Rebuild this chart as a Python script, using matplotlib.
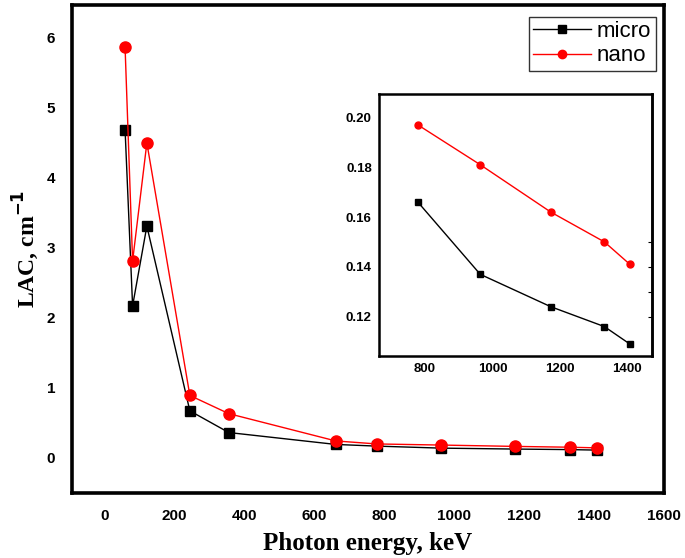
import numpy as np
import matplotlib.pyplot as plt

# Photon energies (keV)
energy = [59.5, 81.0, 121.8, 244.7, 356.0, 661.7, 778.9, 964.0, 1173.2, 1332.5, 1408.0]

# Linear attenuation coefficient (cm^-1)
lac_micro = [4.69, 2.17, 3.31, 0.67, 0.36, 0.19, 0.166, 0.137, 0.124, 0.116, 0.109]
lac_nano = [5.87, 2.81, 4.50, 0.89, 0.63, 0.24, 0.197, 0.181, 0.162, 0.150, 0.141]

# inset shows the high-energy part
n_inset = 5

fig = plt.figure(figsize=(6.85, 5.58), dpi=100)
ax = fig.add_axes([0.1047, 0.117, 0.8646, 0.874])

ax.plot(energy, lac_micro, color='black', lw=1.0, marker='s', ms=7, label='micro')
ax.plot(energy, lac_nano, color='red', lw=1.0, marker='o', ms=8, label='nano')

ax.set_xlim(-93, 1590)
ax.set_ylim(-0.5, 6.47)
ax.set_xticks(np.arange(0, 1601, 200))
ax.set_yticks(np.arange(0, 7, 1))
ax.tick_params(length=0, pad=12, labelsize=11)
for lab in ax.get_xticklabels() + ax.get_yticklabels():
    lab.set_fontfamily('Liberation Sans')
    lab.set_fontweight('bold')
for sp in ax.spines.values():
    sp.set_linewidth(2.6)

ax.set_xlabel('Photon energy, keV', fontfamily='Liberation Serif', fontweight='bold', fontsize=18, labelpad=6)
ax.set_ylabel('LAC, cm$^{\\mathbf{-1}}$', fontfamily='Liberation Serif', fontweight='bold', fontsize=17, labelpad=4)

leg = ax.legend(loc='upper right', bbox_to_anchor=(0.997, 0.99), frameon=True, fancybox=False,
                edgecolor='black', borderpad=0.2, handlelength=2.6, handletextpad=0.25, labelspacing=0.15,
                markerscale=0.75, borderaxespad=0.3,
                prop={'family': 'Liberation Sans', 'size': 16})
leg.get_frame().set_linewidth(1.0)

# inset
axi = fig.add_axes([0.553, 0.362, 0.399, 0.470])
axi.plot(energy[-n_inset:], lac_micro[-n_inset:], color='black', lw=1.0, marker='s', ms=4)
axi.plot(energy[-n_inset:], lac_nano[-n_inset:], color='red', lw=1.0, marker='o', ms=5)
axi.set_xlim(663, 1474)
axi.set_ylim(0.1042, 0.2095)
axi.set_xticks([800, 1000, 1200, 1400])
axi.set_yticks([0.12, 0.14, 0.16, 0.18, 0.20])
axi.set_yticklabels(['0.12', '0.14', '0.16', '0.18', '0.20'])
axi.tick_params(length=0, pad=5, labelsize=9.5)
for lab in axi.get_xticklabels() + axi.get_yticklabels():
    lab.set_fontfamily('Liberation Sans')
    lab.set_fontweight('bold')
for sp in axi.spines.values():
    sp.set_linewidth(1.8)
sec = axi.secondary_yaxis('right')
sec.set_yticks([0.12, 0.13, 0.14, 0.15])
sec.tick_params(direction='in', length=3, labelright=False)
sec.spines['right'].set_linewidth(1.8)

fig.savefig('out.png', dpi=100)
